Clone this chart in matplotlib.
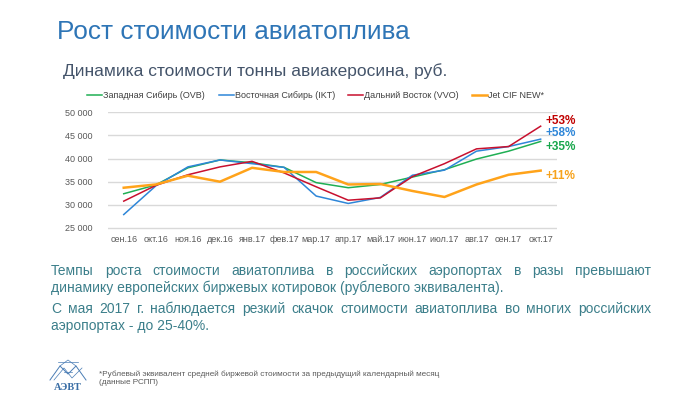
import matplotlib
matplotlib.use("Agg")
import matplotlib.pyplot as plt
from matplotlib.lines import Line2D
from matplotlib.ticker import FuncFormatter

# data
months = ['сен.16', 'окт.16', 'ноя.16', 'дек.16', 'янв.17', 'фев.17', 'мар.17',
          'апр.17', 'май.17', 'июн.17', 'июл.17', 'авг.17', 'сен.17', 'окт.17']
west_sib = [32400, 34300, 38000, 39700, 39100, 38100, 34800,
            33700, 34400, 36000, 37600, 39900, 41600, 43700]
east_sib = [27900, 34100, 38200, 39700, 38900, 38100, 31900,
            30300, 31600, 36400, 37500, 41600, 42600, 44200]
far_east = [30800, 34200, 36500, 38200, 39400, 36900, 33900,
            31000, 31500, 36100, 38900, 42100, 42600, 47000]
jet_cif = [33700, 34400, 36300, 35000, 38000, 37100, 37100,
           34400, 34500, 33000, 31700, 34400, 36500, 37400]
series_names = ['Западная Сибирь (OVB)', 'Восточная Сибирь (IKT)',
                'Дальний Восток (VVO)', 'Jet CIF NEW*']
growth_labels = ['+35%', '+58%', '+53%', '+11%']
y_ticks = [25000, 30000, 35000, 40000, 45000, 50000]

title = 'Рост стоимости авиатоплива'
subtitle = 'Динамика стоимости тонны авиакеросина, руб.'
para1 = ['Темпы роста стоимости авиатоплива в российских аэропортах в разы превышают',
         'динамику европейских биржевых котировок (рублевого эквивалента).']
para2 = ['С мая 2017 г. наблюдается резкий скачок стоимости авиатоплива во многих российских',
         'аэропортах - до 25-40%.']
footnote = ('*Рублевый эквивалент средней биржевой стоимости за предыдущий календарный месяц\n'
            '(данные РСПП)')

colors = ['#1FAF54', '#2E86D8', '#C8102E', '#FFA31A']
label_colors = ['#17A64B', '#2E86D8', '#C00000', '#F7A21B']
widths = [1.1, 1.1, 1.1, 1.8]

W, H = 700, 394
fig = plt.figure(figsize=(7, 3.94), dpi=100)
fig.patch.set_facecolor('white')

# plot box runs a little below the 25 000 line so that line is not clipped
ax = fig.add_axes([107.7 / W, (H - 232.6) / H, 449 / W, 120.3 / H])
x = list(range(len(months)))
for vals, name, c, lw in zip([west_sib, east_sib, far_east, jet_cif],
                             series_names, colors, widths):
    ax.plot(x, vals, color=c, lw=lw, label=name, zorder=3)

ax.set_xlim(-0.5, len(months) - 0.5)
ax.set_ylim(24000, 50000)
ax.set_yticks(y_ticks)
ax.yaxis.set_major_formatter(FuncFormatter(lambda v, p: f'{int(v):,}'.replace(',', ' ')))
ax.set_xticks(x)
ax.set_xticklabels(months)
for s in ax.spines.values():
    s.set_visible(False)
ax.grid(axis='y', color='#D9D9D9', lw=1)
ax.set_axisbelow(True)
ax.tick_params(length=0, labelsize=6.5, labelcolor='#595959')
ax.tick_params(axis='y', pad=11)
ax.tick_params(axis='x', pad=1.5)
for t in ax.get_xticklabels() + ax.get_yticklabels():
    t.set_family('Liberation Sans')

# growth labels at the right end
label_y = [42570, 45460, 48190, 36240]
for txt, yy, c in zip(growth_labels, label_y, label_colors):
    ax.text(13.15, yy, txt, color=c, fontsize=8.5, fontweight='bold',
            family='Liberation Sans', va='center', ha='left')

# legend, drawn by hand so the items sit where they are in the slide
leg_x = [87, 219, 348, 472]
leg_y = (H - 95) / H
for lx, name, c, lw in zip(leg_x, series_names, colors, widths):
    fig.add_artist(Line2D([lx / W, (lx + 15) / W], [leg_y, leg_y], color=c, lw=lw,
                          transform=fig.transFigure))
    fig.text((lx + 16) / W, leg_y, name, fontsize=6.5, color='#404040',
             family='Liberation Sans', va='center')

fig.text(57 / W, (H - 32) / H, title, fontsize=18.8, color='#2E75B6',
         family='Liberation Sans', va='center')
fig.text(63 / W, (H - 71) / H, subtitle, fontsize=12.5, color='#44546A',
         family='Liberation Sans', va='center')

body_kw = dict(fontsize=10, color='#3B7E8A', family='Liberation Sans', va='center')
renderer = fig.canvas.get_renderer()


def justify(line, x0, x1, y):
    words = line.split(' ')
    ts = [fig.text(0, y, w, **body_kw) for w in words]
    ws = [t.get_window_extent(renderer).width for t in ts]
    gap = (x1 - x0 - sum(ws)) / (len(words) - 1)
    pos = x0
    for t, w in zip(ts, ws):
        t.set_x(pos / W)
        pos += w + gap


justify(para1[0], 51, 651, (H - 271) / H)
fig.text(51 / W, (H - 288) / H, para1[1], **body_kw)
justify(para2[0], 51, 651, (H - 309) / H)
fig.text(51 / W, (H - 326) / H, para2[1], **body_kw)

fig.text(99 / W, (H - 378) / H, footnote, fontsize=5.9, color='#595959',
         family='Liberation Sans', va='center', linespacing=1.2)

# logo
logo = fig.add_axes([46 / W, (H - 392) / H, 44 / W, 34 / H])
logo.set_xlim(0, 44)
logo.set_ylim(0, 34)
logo.axis('off')
lc = '#4A7DB5'
logo.plot([4, 14, 22, 30, 40], [12, 26, 18, 26, 12], color=lc, lw=0.7)
logo.plot([8, 18, 26, 36], [12, 24, 14, 24], color=lc, lw=0.5)
logo.plot([14, 22, 30], [26, 32, 26], color=lc, lw=0.5)
logo.plot([12, 32], [30, 30], color=lc, lw=0.5)
logo.plot([18, 26], [20, 20], color=lc, lw=0.5)
logo.text(22, 5, 'АЭВТ', ha='center', va='center', fontsize=7.5, fontweight='bold',
          color='#3A6EA5', family='Liberation Serif')

fig.savefig('out.png', dpi=100, facecolor='white')
